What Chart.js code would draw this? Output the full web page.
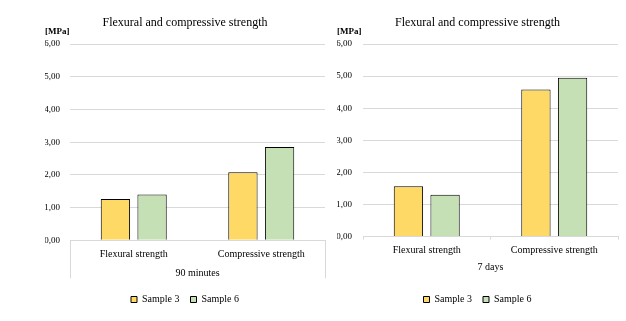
<!DOCTYPE html>
<html>
<head>
<meta charset="utf-8">
<script src="https://cdn.jsdelivr.net/npm/chart.js@4"></script>
<style>
  html, body { margin: 0; padding: 0; background: #fff; }
  body { width: 626px; height: 321px; position: relative; overflow: hidden; }
  canvas { position: absolute; top: 0; }
  #c1 { left: 0; }
  #c2 { left: 313px; }
</style>
</head>
<body>
<canvas id="c1" width="330" height="321"></canvas>
<canvas id="c2" width="313" height="321"></canvas>
<script>
// ---- data ----
const categories = ['Flexural strength', 'Compressive strength'];
const seriesNames = ['Sample 3', 'Sample 6'];
const sample3_90min = [1.26, 2.08];
const sample6_90min = [1.40, 2.85];
const sample3_7days = [1.57, 4.58];
const sample6_7days = [1.30, 4.95];
const yTickValues = [0, 1, 2, 3, 4, 5, 6];
const titleText = 'Flexural and compressive strength';
const unitText = '[MPa]';
const groupLeft = '90 minutes';
const groupRight = '7 days';

const FONT = 'Liberation Serif';
const GRID = '#d9d9d9';
const COLORS = ['#FFD966', '#C5E0B4'];

// draws the outer separators of the multi-level category box, from the x scale's own edges
const groupBoxPlugin = {
  id: 'groupBox',
  afterDraw(chart, args, opts) {
    if (!opts.enabled) return;
    const x = chart.scales.x;
    const ctx = chart.ctx;
    ctx.save();
    ctx.strokeStyle = GRID;
    ctx.lineWidth = 1;
    ctx.beginPath();
    [x.left, x.right].forEach(px => {
      const p = Math.round(px) + 0.5;
      ctx.moveTo(p, x.top);
      ctx.lineTo(p, x.top + opts.depth);
    });
    ctx.stroke();
    ctx.restore();
  }
};

function makeChart(id, s3, s6, groupLabel, cfg) {
  return new Chart(document.getElementById(id), {
    type: 'bar',
    data: {
      labels: categories,
      datasets: [
        { label: seriesNames[0], data: s3, backgroundColor: COLORS[0], borderColor: '#000', borderWidth: 1,
          barPercentage: 0.8, categoryPercentage: 0.575 },
        { label: seriesNames[1], data: s6, backgroundColor: COLORS[1], borderColor: '#000', borderWidth: 1,
          barPercentage: 0.8, categoryPercentage: 0.575 }
      ]
    },
    plugins: [groupBoxPlugin],
    options: {
      responsive: false,
      animation: false,
      devicePixelRatio: 1,
      layout: { padding: { left: cfg.padLeft, right: cfg.padRight, top: 0, bottom: 6.5 } },
      plugins: {
        groupBox: { enabled: cfg.box, depth: 38 },
        title: { display: true, text: titleText, color: '#000',
          font: { family: FONT, size: 12, weight: 'normal', lineHeight: 0.9 }, padding: { top: 17.6, bottom: 0 } },
        subtitle: { display: true, text: unitText, align: 'start', color: '#000',
          font: { family: FONT, size: 9, weight: 'bold', lineHeight: 0.8 }, padding: { top: 0, bottom: 8.4 } },
        legend: { position: 'bottom',
          labels: { boxWidth: 6, boxHeight: 6, padding: 11, color: '#000', font: { family: FONT, size: 10 } } },
        tooltip: { enabled: false }
      },
      scales: {
        y: {
          min: 0, max: 6,
          afterBuildTicks: (s) => { s.ticks = yTickValues.map(v => ({ value: v })); },
          afterFit: (s) => { s.width = cfg.yWidth; },
          ticks: { padding: cfg.yPad, color: '#000', font: { family: FONT, size: 9 },
            callback: (v) => Number(v).toFixed(2).replace('.', ',') },
          grid: { color: GRID, drawTicks: false },
          border: { display: false }
        },
        x: {
          grid: cfg.xGrid,
          border: { color: GRID },
          ticks: { padding: cfg.xTickPad, color: '#000', font: { family: FONT, size: 10 } },
          title: { display: true, text: groupLabel, color: '#000',
            font: { family: FONT, size: 10, lineHeight: cfg.xTitleLH },
            padding: cfg.xTitlePad }
        }
      }
    }
  });
}

makeChart('c1', sample3_90min, sample6_90min, groupLeft, {
  padLeft: 45, padRight: 5, yWidth: 25, yPad: 10, box: true,
  xGrid: { drawOnChartArea: false, drawTicks: false },
  xTickPad: 8,
  xTitleLH: 0.8,
  xTitlePad: { top: 1, bottom: 6.2 }
});

makeChart('c2', sample3_7days, sample6_7days, groupRight, {
  padLeft: 24, padRight: 8, yWidth: 26, yPad: 11, box: false,
  xGrid: { drawOnChartArea: false, tickLength: 3, offset: true, color: GRID },
  xTickPad: 5,
  xTitleLH: 1.2,
  xTitlePad: { top: 0, bottom: 9.9 }
});
</script>
</body>
</html>
